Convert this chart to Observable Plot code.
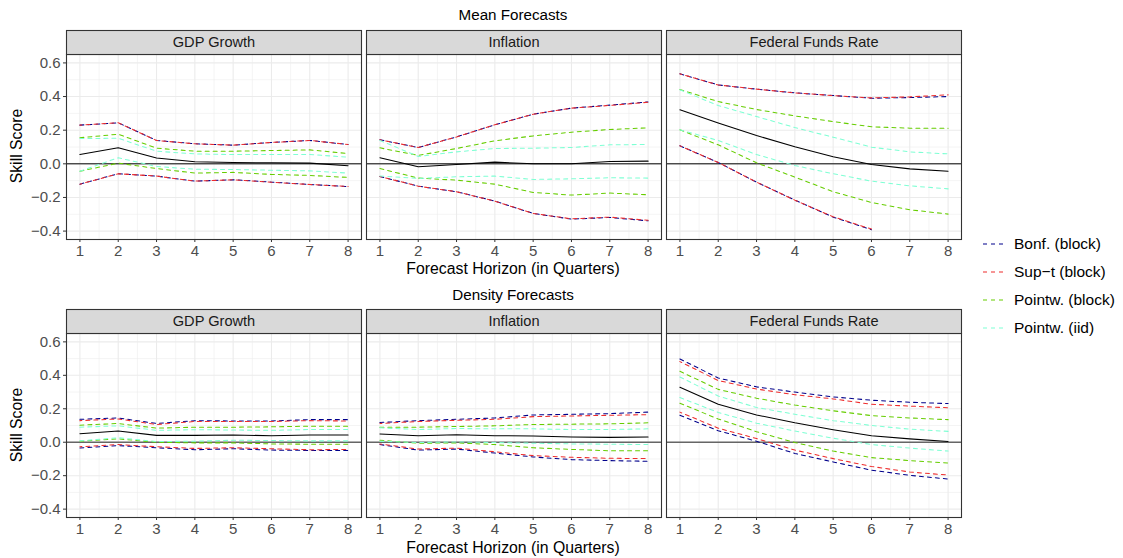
<!DOCTYPE html>
<html>
<head>
<meta charset="utf-8">
<script src="https://cdn.jsdelivr.net/npm/d3@7"></script>
<script src="https://cdn.jsdelivr.net/npm/@observablehq/plot@0.6"></script>
<style>
  html, body { margin: 0; padding: 0; background: #fff; }
  #wrap { position: relative; width: 1123px; height: 558px; font-family: "Liberation Sans", Arial, Helvetica, sans-serif; overflow: hidden; }
  .abs { position: absolute; white-space: nowrap; }
  .ctext { text-align: center; height: 20px; line-height: 20px; }
</style>
</head>
<body>
<div id="wrap"></div>
<script>
// ---------- categories / ticks ----------
const horizon = [1, 2, 3, 4, 5, 6, 7, 8];
const panelNames = ["GDP Growth", "Inflation", "Federal Funds Rate"];
const methodNames = ["Bonf. (block)", "Sup\u2212t (block)", "Pointw. (block)", "Pointw. (iid)"];
const methodColors = ["#00008B", "#EE2C2C", "#66CD00", "#7FFFD4"];
const xTicks = [1, 2, 3, 4, 5, 6, 7, 8];
const xMinor = [1.5, 2.5, 3.5, 4.5, 5.5, 6.5, 7.5];
const yTicks = [-0.4, -0.2, 0, 0.2, 0.4, 0.6];
const yMinor = [-0.3, -0.1, 0.1, 0.3, 0.5];

// ---------- Mean forecasts ----------
const meanGDP_point    = [0.055, 0.095, 0.034, 0.012, 0.008, 0.006, 0.004, -0.012];
const meanGDP_bonf_hi  = [0.230, 0.244, 0.139, 0.119, 0.111, 0.127, 0.139, 0.115];
const meanGDP_bonf_lo  = [-0.121, -0.059, -0.073, -0.103, -0.095, -0.109, -0.123, -0.135];
const meanGDP_supt_hi  = [0.230, 0.244, 0.139, 0.119, 0.111, 0.127, 0.139, 0.115];
const meanGDP_supt_lo  = [-0.121, -0.059, -0.073, -0.103, -0.095, -0.109, -0.123, -0.135];
const meanGDP_pblk_hi  = [0.155, 0.176, 0.093, 0.075, 0.075, 0.079, 0.083, 0.061];
const meanGDP_pblk_lo  = [-0.044, 0.004, -0.028, -0.055, -0.051, -0.063, -0.069, -0.081];
const meanGDP_piid_hi  = [0.150, 0.152, 0.075, 0.059, 0.055, 0.055, 0.055, 0.040];
const meanGDP_piid_lo  = [-0.044, 0.036, -0.016, -0.032, -0.034, -0.038, -0.042, -0.055];

const meanINF_point    = [0.036, -0.018, -0.004, 0.010, 0.000, 0.000, 0.014, 0.016];
const meanINF_bonf_hi  = [0.143, 0.097, 0.160, 0.232, 0.295, 0.331, 0.349, 0.368];
const meanINF_bonf_lo  = [-0.075, -0.133, -0.166, -0.222, -0.295, -0.329, -0.319, -0.339];
const meanINF_supt_hi  = [0.143, 0.097, 0.160, 0.232, 0.295, 0.331, 0.347, 0.366];
const meanINF_supt_lo  = [-0.075, -0.133, -0.166, -0.222, -0.295, -0.327, -0.317, -0.336];
const meanINF_pblk_hi  = [0.095, 0.050, 0.091, 0.137, 0.166, 0.188, 0.204, 0.214];
const meanINF_pblk_lo  = [-0.028, -0.085, -0.097, -0.121, -0.170, -0.186, -0.174, -0.184];
const meanINF_piid_hi  = [0.139, 0.044, 0.071, 0.091, 0.093, 0.097, 0.113, 0.115];
const meanINF_piid_lo  = [-0.073, -0.087, -0.077, -0.073, -0.093, -0.089, -0.083, -0.085];

const meanFFR_point    = [0.321, 0.242, 0.168, 0.101, 0.042, -0.004, -0.030, -0.044];
const meanFFR_bonf_hi  = [0.535, 0.469, 0.444, 0.422, 0.406, 0.390, 0.394, 0.400];
const meanFFR_bonf_lo  = [0.107, 0.008, -0.109, -0.216, -0.317, -0.392, NaN, NaN];
const meanFFR_supt_hi  = [0.535, 0.469, 0.444, 0.422, 0.406, 0.392, 0.398, 0.410];
const meanFFR_supt_lo  = [0.107, 0.008, -0.109, -0.216, -0.315, -0.388, NaN, NaN];
const meanFFR_pblk_hi  = [0.442, 0.370, 0.323, 0.285, 0.251, 0.220, 0.212, 0.212];
const meanFFR_pblk_lo  = [0.202, 0.113, 0.006, -0.079, -0.166, -0.230, -0.273, -0.299];
const meanFFR_piid_hi  = [0.440, 0.347, 0.281, 0.216, 0.158, 0.099, 0.071, 0.059];
const meanFFR_piid_lo  = [0.202, 0.139, 0.055, -0.010, -0.059, -0.103, -0.131, -0.149];

// ---------- Density forecasts ----------
const densGDP_point    = [0.051, 0.067, 0.041, 0.041, 0.043, 0.039, 0.043, 0.043];
const densGDP_bonf_hi  = [0.137, 0.145, 0.112, 0.129, 0.127, 0.127, 0.135, 0.135];
const densGDP_bonf_lo  = [-0.035, -0.020, -0.033, -0.045, -0.039, -0.047, -0.049, -0.049];
const densGDP_supt_hi  = [0.129, 0.139, 0.106, 0.124, 0.124, 0.124, 0.129, 0.127];
const densGDP_supt_lo  = [-0.027, -0.014, -0.027, -0.037, -0.033, -0.039, -0.045, -0.043];
const densGDP_pblk_hi  = [0.102, 0.112, 0.084, 0.090, 0.090, 0.092, 0.096, 0.096];
const densGDP_pblk_lo  = [0.006, 0.020, 0.000, -0.004, -0.004, -0.010, -0.012, -0.012];
const densGDP_piid_hi  = [0.090, 0.098, 0.071, 0.075, 0.073, 0.071, 0.076, 0.076];
const densGDP_piid_lo  = [0.008, 0.027, 0.004, 0.006, 0.012, 0.010, 0.008, 0.008];

const densINF_point    = [0.049, 0.039, 0.045, 0.039, 0.037, 0.031, 0.029, 0.031];
const densINF_bonf_hi  = [0.118, 0.129, 0.137, 0.145, 0.163, 0.167, 0.171, 0.180];
const densINF_bonf_lo  = [-0.014, -0.047, -0.041, -0.065, -0.088, -0.104, -0.110, -0.114];
const densINF_supt_hi  = [0.112, 0.124, 0.131, 0.137, 0.153, 0.157, 0.161, 0.165];
const densINF_supt_lo  = [-0.010, -0.041, -0.035, -0.057, -0.080, -0.090, -0.096, -0.098];
const densINF_pblk_hi  = [0.090, 0.090, 0.094, 0.098, 0.106, 0.108, 0.110, 0.116];
const densINF_pblk_lo  = [0.012, -0.006, -0.004, -0.014, -0.033, -0.043, -0.051, -0.051];
const densINF_piid_hi  = [0.086, 0.076, 0.082, 0.080, 0.080, 0.076, 0.076, 0.080];
const densINF_piid_lo  = [0.006, -0.002, 0.002, -0.002, -0.006, -0.010, -0.012, -0.014];

const densFFR_point    = [0.329, 0.227, 0.163, 0.116, 0.075, 0.039, 0.020, 0.004];
const densFFR_bonf_hi  = [0.498, 0.384, 0.331, 0.300, 0.271, 0.251, 0.239, 0.231];
const densFFR_bonf_lo  = [0.161, 0.069, 0.006, -0.067, -0.118, -0.167, -0.198, -0.220];
const densFFR_supt_hi  = [0.482, 0.369, 0.318, 0.284, 0.259, 0.227, 0.216, 0.206];
const densFFR_supt_lo  = [0.180, 0.084, 0.022, -0.047, -0.098, -0.145, -0.178, -0.196];
const densFFR_pblk_hi  = [0.424, 0.316, 0.263, 0.222, 0.188, 0.159, 0.145, 0.135];
const densFFR_pblk_lo  = [0.233, 0.139, 0.063, -0.002, -0.053, -0.092, -0.110, -0.124];
const densFFR_piid_hi  = [0.390, 0.276, 0.208, 0.167, 0.129, 0.100, 0.078, 0.065];
const densFFR_piid_lo  = [0.267, 0.178, 0.114, 0.067, 0.024, -0.014, -0.035, -0.053];

// ---------- build tidy tables ----------
function panelRows(panel, bands) {
  const rows = [];
  bands.forEach(([hi, lo], mi) => {
    horizon.forEach((h, i) => {
      rows.push({panel, method: methodNames[mi], bound: "hi", h, v: hi[i]});
      rows.push({panel, method: methodNames[mi], bound: "lo", h, v: lo[i]});
    });
  });
  return rows;
}
function pointRows(panel, arr) { return horizon.map((h, i) => ({panel, h, v: arr[i]})); }

const meanBands = [
  ...panelRows(panelNames[0], [[meanGDP_bonf_hi, meanGDP_bonf_lo], [meanGDP_supt_hi, meanGDP_supt_lo], [meanGDP_pblk_hi, meanGDP_pblk_lo], [meanGDP_piid_hi, meanGDP_piid_lo]]),
  ...panelRows(panelNames[1], [[meanINF_bonf_hi, meanINF_bonf_lo], [meanINF_supt_hi, meanINF_supt_lo], [meanINF_pblk_hi, meanINF_pblk_lo], [meanINF_piid_hi, meanINF_piid_lo]]),
  ...panelRows(panelNames[2], [[meanFFR_bonf_hi, meanFFR_bonf_lo], [meanFFR_supt_hi, meanFFR_supt_lo], [meanFFR_pblk_hi, meanFFR_pblk_lo], [meanFFR_piid_hi, meanFFR_piid_lo]])
];
const meanPoints = [
  ...pointRows(panelNames[0], meanGDP_point),
  ...pointRows(panelNames[1], meanINF_point),
  ...pointRows(panelNames[2], meanFFR_point)
];
const densBands = [
  ...panelRows(panelNames[0], [[densGDP_bonf_hi, densGDP_bonf_lo], [densGDP_supt_hi, densGDP_supt_lo], [densGDP_pblk_hi, densGDP_pblk_lo], [densGDP_piid_hi, densGDP_piid_lo]]),
  ...panelRows(panelNames[1], [[densINF_bonf_hi, densINF_bonf_lo], [densINF_supt_hi, densINF_supt_lo], [densINF_pblk_hi, densINF_pblk_lo], [densINF_piid_hi, densINF_piid_lo]]),
  ...panelRows(panelNames[2], [[densFFR_bonf_hi, densFFR_bonf_lo], [densFFR_supt_hi, densFFR_supt_lo], [densFFR_pblk_hi, densFFR_pblk_lo], [densFFR_piid_hi, densFFR_piid_lo]])
];
const densPoints = [
  ...pointRows(panelNames[0], densGDP_point),
  ...pointRows(panelNames[1], densINF_point),
  ...pointRows(panelNames[2], densFFR_point)
];

const FONT = '"Liberation Sans", Arial, Helvetica, sans-serif';

function makePlot(bands, points, marginTop, panelH, zeroColor, zeroWidth) {
  const marginBottom = 22;
  return Plot.plot({
    width: 965,
    height: marginTop + panelH + marginBottom,
    marginLeft: 65, marginRight: 3, marginTop, marginBottom,
    style: {fontFamily: FONT, background: "transparent", overflow: "visible"},
    fx: {domain: panelNames, paddingInner: 0.017, paddingOuter: 0, axis: null, label: null},
    x: {domain: [0.65, 8.35]},
    y: {domain: [-0.45, 0.65]},
    color: {domain: methodNames, range: methodColors},
    marks: [
      Plot.gridX(xMinor, {stroke: "#ebebeb", strokeOpacity: 1, strokeWidth: 0.55}),
      Plot.gridY(yMinor, {stroke: "#ebebeb", strokeOpacity: 1, strokeWidth: 0.55}),
      Plot.gridX(xTicks, {stroke: "#ebebeb", strokeOpacity: 1, strokeWidth: 1.1}),
      Plot.gridY(yTicks, {stroke: "#ebebeb", strokeOpacity: 1, strokeWidth: 1.1}),
      Plot.ruleY([0], {stroke: zeroColor, strokeWidth: zeroWidth}),
      ...methodNames.map((m, mi) => Plot.line(bands.filter(r => r.method === m), {
        fx: "panel", x: "h", y: "v", z: "bound", stroke: "method",
        strokeWidth: 1.05, strokeDasharray: "4,4", strokeDashoffset: mi === 1 ? 2 : 0
      })),
      Plot.line(points, {fx: "panel", x: "h", y: "v", stroke: "black", strokeWidth: 1.05}),
      Plot.frame({stroke: "#333333", strokeWidth: 1.1, fill: "none"}),
      Plot.frame({fill: "#d9d9d9", stroke: "#333333", strokeWidth: 1.1, insetTop: -24, insetBottom: panelH}),
      Plot.text(panelNames, {fx: d => d, text: d => d, frameAnchor: "top", lineAnchor: "middle", dy: -12, fontSize: 14.6, fill: "#1a1a1a"}),
      Plot.axisX({ticks: xTicks, tickSize: 3, tickPadding: 3, fontSize: 15, stroke: "#333333", fill: "#4d4d4d", label: null}),
      Plot.axisY({ticks: yTicks, tickSize: 3, tickPadding: 3, fontSize: 15, stroke: "#333333", fill: "#4d4d4d", label: null, tickFormat: d3.format(".1f")})
    ]
  });
}

const wrap = document.getElementById("wrap");

function addText(txt, cx, cy, size, extra = "") {
  const d = document.createElement("div");
  d.className = "abs ctext";
  d.textContent = txt;
  d.style.cssText += `left:${cx - 200}px;width:400px;top:${cy - 10}px;font-size:${size}px;color:#000;${extra}`;
  wrap.appendChild(d);
  return d;
}

// Row 1: Mean forecasts
addText("Mean Forecasts", 513, 15, 15.2);
const p1 = makePlot(meanBands, meanPoints, 54, 185, "#000000", 1);
p1.style.position = "absolute"; p1.style.left = "0px"; p1.style.top = "0px";
wrap.appendChild(p1);
addText("Forecast Horizon (in Quarters)", 513, 269, 15.8);
addText("Skill Score", 17, 146, 15.8, "transform:rotate(-90deg);");

// Row 2: Density forecasts
addText("Density Forecasts", 513, 295, 15.2);
const p2 = makePlot(densBands, densPoints, 53, 184, "#666666", 1.6);
p2.style.position = "absolute"; p2.style.left = "0px"; p2.style.top = "280px";
wrap.appendChild(p2);
addText("Forecast Horizon (in Quarters)", 513, 548, 15.8);
addText("Skill Score", 17, 425, 15.8, "transform:rotate(-90deg);");

// Legend
const legendTops = [244, 272, 300, 328];
methodNames.forEach((m, i) => {
  const item = document.createElement("div");
  item.className = "abs";
  item.style.cssText += `left:981px;top:${legendTops[i] - 10}px;height:20px;display:flex;align-items:center;font-size:15.5px;color:#000;`;
  const ns = "http://www.w3.org/2000/svg";
  const svg = document.createElementNS(ns, "svg");
  svg.setAttribute("width", "26"); svg.setAttribute("height", "10");
  const ln = document.createElementNS(ns, "line");
  ln.setAttribute("x1", "2"); ln.setAttribute("x2", "24");
  ln.setAttribute("y1", "5"); ln.setAttribute("y2", "5");
  ln.setAttribute("stroke", methodColors[i]);
  ln.setAttribute("stroke-width", "1.05");
  ln.setAttribute("stroke-dasharray", "4,4");
  svg.appendChild(ln);
  const t = document.createElement("span");
  t.textContent = m;
  t.style.marginLeft = "7px";
  item.appendChild(svg); item.appendChild(t);
  wrap.appendChild(item);
});
</script>
</body>
</html>
